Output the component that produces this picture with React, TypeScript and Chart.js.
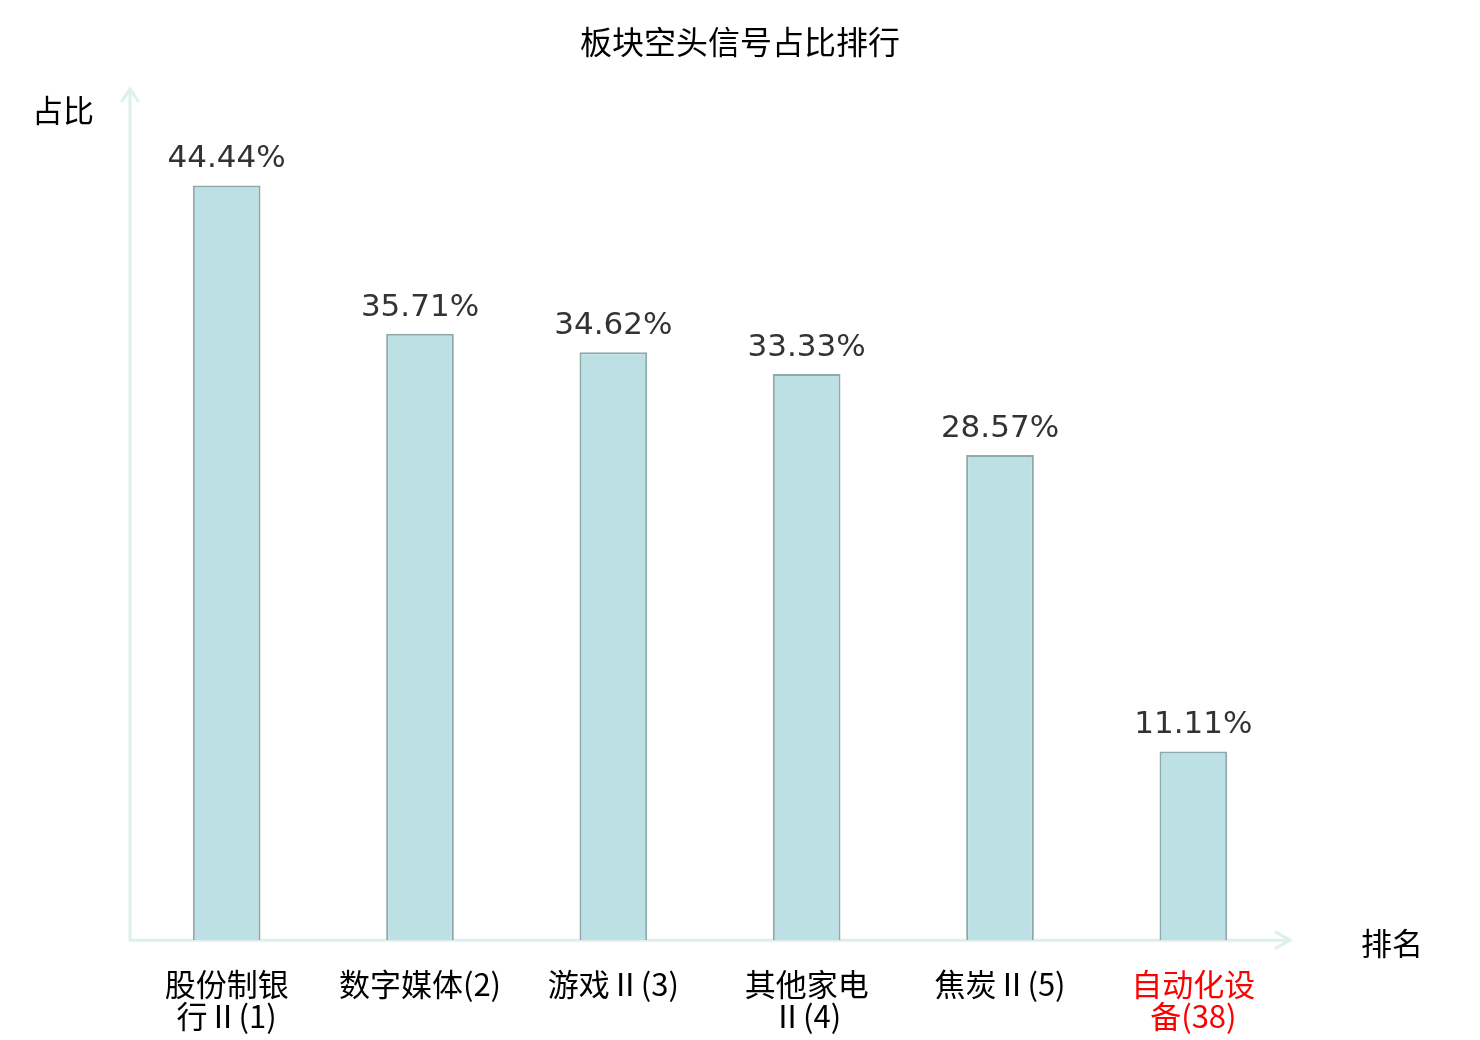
import { useEffect, useRef } from "react";
import { Chart, registerables } from "chart.js";

Chart.register(...registerables);

const categories: string[][] = [
  ["股份制银", "行Ⅱ(1)"],
  ["数字媒体(2)"],
  ["游戏Ⅱ(3)"],
  ["其他家电", "Ⅱ(4)"],
  ["焦炭Ⅱ(5)"],
  ["自动化设", "备(38)"],
];
const shortRatio = [44.44, 35.71, 34.62, 33.33, 28.57, 11.11];
const highlightIndex = 5;

const cjkFont = '"Noto Sans CJK SC", "Noto Sans", sans-serif';
const numFont = '"DejaVu Sans", sans-serif';
const axisColor = "#dcf1ee";

export default function App() {
  const canvasRef = useRef<HTMLCanvasElement | null>(null);
  const chartRef = useRef<Chart | null>(null);

  useEffect(() => {
    document.body.style.margin = "0";
    if (!canvasRef.current) {
      return;
    }
    chartRef.current?.destroy();

    const decorPlugin = {
      id: "decor",
      beforeDatasetsDraw: (chart: Chart) => {
        const { ctx, chartArea } = chart;
        const { left, right, top, bottom } = chartArea;
        ctx.save();
        ctx.strokeStyle = axisColor;
        ctx.lineWidth = 3;
        ctx.lineCap = "round";
        ctx.beginPath();
        // y axis with arrow
        ctx.moveTo(left, bottom);
        ctx.lineTo(left, top - 2);
        ctx.moveTo(left - 8, top + 10);
        ctx.lineTo(left, top - 2);
        ctx.lineTo(left + 8, top + 10);
        // x axis with arrow
        ctx.moveTo(left, bottom);
        ctx.lineTo(right, bottom);
        ctx.moveTo(right - 14, bottom - 8);
        ctx.lineTo(right, bottom);
        ctx.lineTo(right - 14, bottom + 8);
        ctx.stroke();
        ctx.restore();
      },
      afterDraw: (chart: Chart) => {
        const { ctx, chartArea } = chart;
        ctx.save();
        ctx.textAlign = "center";
        ctx.textBaseline = "middle";
        ctx.fillStyle = "#000";
        ctx.font = `32px ${cjkFont}`;
        ctx.fillText("板块空头信号占比排行", chart.width / 2, 42);
        ctx.font = `31px ${cjkFont}`;
        ctx.fillText("占比", 63, 110);
        ctx.fillText("排名", 1392, chartArea.bottom + 3);

        ctx.fillStyle = "#333";
        ctx.font = `31px ${numFont}`;
        ctx.textBaseline = "alphabetic";
        const meta = chart.getDatasetMeta(0);
        meta.data.forEach((bar: any, i: number) => {
          ctx.fillText(`${shortRatio[i].toFixed(2)}%`, bar.x, bar.y - 18);
        });
        ctx.restore();
      },
    };

    chartRef.current = new Chart(canvasRef.current, {
      type: "bar",
      data: {
        labels: categories,
        datasets: [
          {
            data: shortRatio,
            backgroundColor: "#bce0e3",
            borderColor: "#8fa9ab",
            borderWidth: 2,
            barPercentage: 0.35,
            categoryPercentage: 1,
          },
        ],
      },
      plugins: [decorPlugin],
      options: {
        responsive: false,
        animation: false,
        devicePixelRatio: 1,
        layout: {
          padding: { left: 130, right: 190, top: 91, bottom: -20 },
        },
        plugins: {
          legend: { display: false },
          tooltip: { enabled: false },
        },
        scales: {
          x: {
            grid: { display: false, drawTicks: false },
            border: { display: false },
            ticks: {
              padding: 28,
              maxRotation: 0,
              autoSkip: false,
              font: { family: cjkFont, size: 31, lineHeight: 1.03 },
              color: (c: any) => (c.index === highlightIndex ? "#ff0000" : "#000"),
            },
          },
          y: {
            display: false,
            min: 0,
            max: 50,
          },
        },
      } as any,
    });

    return () => {
      chartRef.current?.destroy();
    };
  }, []);

  return (
    <div style={{ width: 1480, height: 1040 }}>
      <canvas ref={canvasRef} width={1480} height={1040} />
    </div>
  );
}
